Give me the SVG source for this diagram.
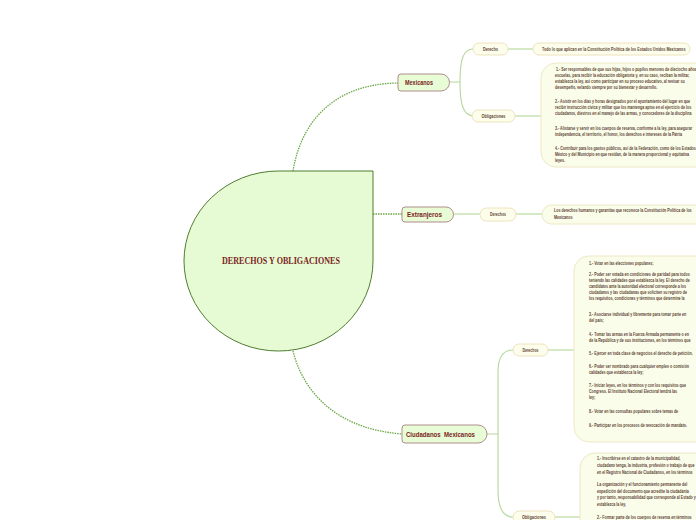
<svg xmlns="http://www.w3.org/2000/svg" width="696" height="520" viewBox="0 0 696 520">
<style>
.main{fill:#e8fcd5;stroke:#b08d8d;stroke-width:1}
.mt{font-family:"Liberation Sans",Arial,sans-serif;font-weight:bold;font-size:7px;fill:#7a1e1e}
.pill{fill:#fcfdea;stroke:#ede4bd;stroke-width:1}
.box{fill:#f9fde9;stroke:#eee8c6;stroke-width:1}
.lab{font-family:"Liberation Sans",Arial,sans-serif;font-weight:bold;font-size:5.5px;fill:#5f4536;text-anchor:middle}
.t text{font-family:"Liberation Sans",Arial,sans-serif;font-weight:bold;font-size:5.5px;fill:#5f4536}
.dot{fill:none;stroke:#6aa845;stroke-width:1.3;stroke-dasharray:1.5 1}
.ln{fill:none;stroke:#b3d89a;stroke-width:1.1}
</style>
<rect width="696" height="520" fill="#ffffff"/>
<g id="connectors">
<path class="dot" d="M293,171 C300,128 328,84 398,83"/>
<path class="dot" d="M373,214 L402,214"/>
<path class="dot" d="M293,351 C300,380 325,428 402,434"/>
<path class="ln" d="M449,82 L460,82 M460,82 C460,60 463,49 473,49 M460,82 C460,104 463,116 474,116"/>
<path class="ln" d="M508,49 L533,49"/>
<path class="ln" d="M515,116 L541,116"/>
<path class="ln" d="M454,214 L480,214"/>
<path class="ln" d="M516,214 L542,214"/>
<path class="ln" d="M487,434 L498,434 M498,434 L498,372 C498,357 503,350 513,350 M498,434 L498,490 C498,508 503,517 513,517"/>
<path class="ln" d="M548,350 L574,350"/>
<path class="ln" d="M555,517 L580,517"/>
</g>
<g id="central">
<path d="M278.5,171 L373,171 L373,261 A94.5,90 0 0 1 278.5,351 A94.5,90 0 0 1 184,261 A94.5,90 0 0 1 278.5,171 Z" fill="#e6fbd3" stroke="#4f7d2f" stroke-width="1"/>
<text x="281" y="264" font-family="Liberation Serif,serif" font-weight="bold" font-size="9.5" fill="#7a1e1e" text-anchor="middle" textLength="118" lengthAdjust="spacingAndGlyphs">DERECHOS Y OBLIGACIONES</text>
</g>
<g id="mexicanos">
<path class="main" d="M401,74 H441 A8.5,8.5 0 0 1 441,91 H401 Q398,91 398,88 V77 Q398,74 401,74 Z"/>
<text class="mt" x="405" y="85" textLength="28" lengthAdjust="spacingAndGlyphs">Mexicanos</text>
</g>
<g id="mex-derecho">
<rect class="pill" x="473" y="43" width="35" height="12" rx="6"/>
<text class="lab" x="490.5" y="51" textLength="15" lengthAdjust="spacingAndGlyphs">Derecho</text>
</g>
<g id="mex-derecho-text">
<rect class="pill" x="533" y="43" width="157" height="12" rx="6"/>
<g class="t" transform="translate(542 0) scale(0.68 1)">
<text x="0" y="51">Todo lo que aplican en la Constitución Política de los Estados Unidos Mexicanos</text>
</g>
</g>
<g id="mex-obligaciones">
<rect class="pill" x="472" y="110" width="43" height="12" rx="6"/>
<text class="lab" x="493.5" y="118" textLength="24" lengthAdjust="spacingAndGlyphs">Obligaciones</text>
</g>
<g id="mex-obligaciones-text">
<rect class="box" x="541" y="63" width="200" height="104" rx="15"/>
<g class="t" transform="translate(556 0) scale(0.66 1)">
<text x="0" y="71">1.- Ser responsables de que sus hijas, hijos o pupilos menores de dieciocho años</text>
<text x="-1.5" y="77">escuelas, para recibir la educación obligatoria y, en su caso, reciban la militar,</text>
<text x="-1.5" y="83">establezca la ley, así como participar en su proceso educativo, al revisar su</text>
<text x="-1.5" y="89">desempeño, velando siempre por su bienestar y desarrollo.</text>
<text x="-1.5" y="103">2.- Asistir en los días y horas designados por el ayuntamiento del lugar en que</text>
<text x="-1.5" y="109">recibir instrucción cívica y militar que los mantenga aptos en el ejercicio de los</text>
<text x="-1.5" y="115">ciudadanos, diestros en el manejo de las armas, y conocedores de la disciplina</text>
<text x="-1.5" y="130">3.- Alistarse y servir en los cuerpos de reserva, conforme a la ley, para asegurar</text>
<text x="-1.5" y="136">independencia, el territorio, el honor, los derechos e intereses de la Patria</text>
<text x="-1.5" y="150">4.- Contribuir para los gastos públicos, así de la Federación, como de los Estados</text>
<text x="-1.5" y="156">México y del Municipio en que residan, de la manera proporcional y equitativa</text>
<text x="-1.5" y="162">leyes.</text>
</g>
</g>
<g id="extranjeros">
<path class="main" d="M405,207 H446 A7.5,7.5 0 0 1 446,222 H405 Q402,222 402,219 V210 Q402,207 405,207 Z"/>
<text class="mt" x="407" y="217" textLength="35" lengthAdjust="spacingAndGlyphs">Extranjeros</text>
</g>
<g id="ext-derechos">
<rect class="pill" x="480" y="208" width="36" height="13" rx="6.5"/>
<text class="lab" x="498" y="216" textLength="16" lengthAdjust="spacingAndGlyphs">Derechos</text>
</g>
<g id="ext-derechos-text">
<rect class="box" x="542" y="205" width="200" height="19" rx="9.5"/>
<g class="t" transform="translate(554 0) scale(0.66 1)">
<text x="0" y="212.5">Los derechos humanos y garantías que reconoce la Constitución Política de los</text>
<text x="0" y="219.5">Mexicanos</text>
</g>
</g>
<g id="ciudadanos">
<path class="main" d="M405,425 H478 A9,9 0 0 1 478,443 H405 Q402,443 402,440 V428 Q402,425 405,425 Z"/>
<text class="mt" x="406" y="437" textLength="69" lengthAdjust="spacingAndGlyphs" xml:space="preserve">Ciudadanos  Mexicanos</text>
</g>
<g id="ciu-derechos">
<rect class="pill" x="513" y="344" width="35" height="12" rx="6"/>
<text class="lab" x="530.5" y="352" textLength="16" lengthAdjust="spacingAndGlyphs">Derechos</text>
</g>
<g id="ciu-derechos-text">
<rect class="box" x="574" y="256" width="200" height="186" rx="15"/>
<g class="t" transform="translate(589 0) scale(0.66 1)">
<text x="0" y="265">1.- Votar en las elecciones populares;</text>
<text x="0" y="276">2.- Poder ser votada en condiciones de paridad para todos</text>
<text x="0" y="282">teniendo las calidades que establezca la ley. El derecho de</text>
<text x="0" y="288">candidatos ante la autoridad electoral corresponde a los</text>
<text x="0" y="294">ciudadanos y las ciudadanas que soliciten su registro de</text>
<text x="0" y="300">los requisitos, condiciones y términos que determine la</text>
<text x="0" y="316">3.- Asociarse individual y libremente para tomar parte en</text>
<text x="0" y="322">del país;</text>
<text x="0" y="336">4.- Tomar las armas en la Fuerza Armada permanente o en</text>
<text x="0" y="342">de la República y de sus instituciones, en los términos que</text>
<text x="0" y="355">5.- Ejercer en toda clase de negocios el derecho de petición.</text>
<text x="0" y="368">6.- Poder ser nombrado para cualquier empleo o comisión</text>
<text x="0" y="374">calidades que establezca la ley;</text>
<text x="0" y="387">7.- Iniciar leyes, en los términos y con los requisitos que</text>
<text x="0" y="393">Congreso. El Instituto Nacional Electoral tendrá las</text>
<text x="0" y="399">ley;</text>
<text x="0" y="413">8.- Votar en las consultas populares sobre temas de</text>
<text x="0" y="427">9.- Participar en los procesos de revocación de mandato.</text>
</g>
</g>
<g id="ciu-obligaciones">
<rect class="pill" x="513" y="511" width="42" height="13" rx="6.5"/>
<text class="lab" x="534" y="519" textLength="24" lengthAdjust="spacingAndGlyphs">Obligaciones</text>
</g>
<g id="ciu-obligaciones-text">
<rect class="box" x="580" y="453" width="200" height="100" rx="15"/>
<g class="t" transform="translate(597 0) scale(0.66 1)">
<text x="0" y="460">1.- Inscribirse en el catastro de la municipalidad,</text>
<text x="0" y="467">ciudadano tenga, la industria, profesión o trabajo de que</text>
<text x="0" y="474">en el Registro Nacional de Ciudadanos, en los términos</text>
<text x="0" y="486">La organización y el funcionamiento permanente del</text>
<text x="0" y="493">expedición del documento que acredite la ciudadanía</text>
<text x="0" y="499.5">y por tanto, responsabilidad que corresponde al Estado y</text>
<text x="0" y="506">establezca la ley,</text>
<text x="0" y="519">2.- Formar parte de los cuerpos de reserva en términos</text>
</g>
</g>
</svg>
